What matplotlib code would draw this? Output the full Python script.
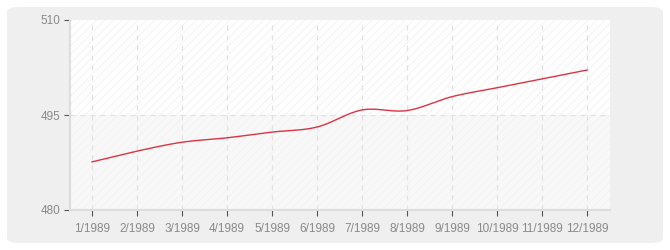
import matplotlib
matplotlib.use("Agg")
import matplotlib.pyplot as plt
import numpy as np
from matplotlib.patches import FancyBboxPatch, Rectangle

months = ["1/1989", "2/1989", "3/1989", "4/1989", "5/1989", "6/1989",
          "7/1989", "8/1989", "9/1989", "10/1989", "11/1989", "12/1989"]
values = [487.6, 489.3, 490.7, 491.4, 492.3, 493.1,
          495.8, 495.7, 497.9, 499.3, 500.7, 502.1]
y_ticks = [480, 495, 510]


def smooth(xs, ys, n=20):
    # cubic hermite with catmull-rom tangents, just to draw a smooth line
    xs = np.asarray(xs, float)
    ys = np.asarray(ys, float)
    m = np.gradient(ys, xs)
    out_x, out_y = [], []
    for i in range(len(xs) - 1):
        t = np.linspace(0, 1, n, endpoint=False)
        h = xs[i + 1] - xs[i]
        h00 = 2 * t**3 - 3 * t**2 + 1
        h10 = t**3 - 2 * t**2 + t
        h01 = -2 * t**3 + 3 * t**2
        h11 = t**3 - t**2
        out_x.extend(xs[i] + t * h)
        out_y.extend(h00 * ys[i] + h10 * h * m[i] + h01 * ys[i + 1] + h11 * h * m[i + 1])
    out_x.append(xs[-1])
    out_y.append(ys[-1])
    return np.array(out_x), np.array(out_y)


plt.rcParams["hatch.color"] = "#eeeeee"
plt.rcParams["hatch.linewidth"] = 0.6
plt.rcParams["font.family"] = ["Liberation Sans", "DejaVu Sans"]

fig = plt.figure(figsize=(6.7, 2.5), dpi=100)
fig.patch.set_facecolor("white")
bg = FancyBboxPatch((7 / 670, 7 / 250), 656 / 670, 236 / 250,
                    boxstyle="round,pad=0,rounding_size=0.02",
                    transform=fig.transFigure, facecolor="#efefef",
                    edgecolor="none", zorder=-10)
fig.patches.append(bg)

ax = fig.add_axes([70 / 670, 40 / 250, 540 / 670, 190 / 250])
ax.set_facecolor("#ffffff")

x = np.arange(len(months))
ax.set_xlim(-0.49, len(months) - 0.49)
ax.set_ylim(y_ticks[0], y_ticks[-1])

# shaded lower band and hatched background
ax.add_patch(Rectangle((-0.49, y_ticks[0]), len(months), y_ticks[1] - y_ticks[0],
                       facecolor="#f8f8f8", edgecolor="none", zorder=0))
ax.add_patch(Rectangle((-0.49, y_ticks[0]), len(months), y_ticks[-1] - y_ticks[0],
                       facecolor="none", edgecolor="#f2f2f2", hatch="////",
                       linewidth=0, zorder=0.5))

for xi in x:
    ax.axvline(xi, color="#e2e2e2", lw=0.9, ls=(0, (4, 4)), zorder=1)
ax.axhline(y_ticks[1], color="#e2e2e2", lw=0.9, ls=(0, (4, 4)), zorder=1)

sx, sy = smooth(x, values)
ax.plot(sx, sy, color="#dd3344", lw=1.0, zorder=3)

ax.set_xticks(x)
ax.set_xticklabels(months)
ax.set_yticks(y_ticks)
for s in ["top", "right"]:
    ax.spines[s].set_visible(False)
for s in ["left", "bottom"]:
    ax.spines[s].set_color("#dddddd")
    ax.spines[s].set_linewidth(1.5)
ax.tick_params(axis="both", colors="#555555", labelcolor="#8a8a8a",
               labelsize=8.5, length=4, width=0.8)
ax.tick_params(axis="x", pad=5)
ax.tick_params(axis="y", pad=3)

fig.savefig("out.png", dpi=100)
